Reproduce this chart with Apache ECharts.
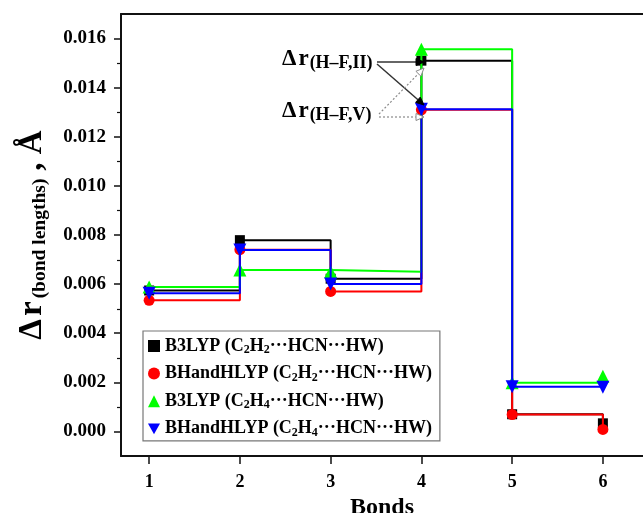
<!DOCTYPE html>
<html><head><meta charset="utf-8">
<script src="https://cdn.jsdelivr.net/npm/echarts@6/dist/echarts.min.js"></script>
<style>html,body{margin:0;padding:0;background:#fff}#c{width:643px;height:513px}</style>
</head><body><div id="c"></div>
<script>
// ---- data ----
const bonds = [1, 2, 3, 4, 5, 6];
const b3lypC2H2 = [0.00574, 0.00779, 0.00622, 0.0151, 0.0007, 0.00033];
const bhandhC2H2 = [0.00534, 0.0074, 0.0057, 0.0131, 0.00069, 0.00008];
const b3lypC2H4 = [0.00588, 0.00657, 0.0065, 0.01556, 0.00198, 0.00225];
const bhandhC2H4 = [0.00563, 0.00739, 0.006, 0.01312, 0.00182, 0.0018];
const seriesNames = [
  'B3LYP (C2H2···HCN···HW)',
  'BHandHLYP (C2H2···HCN···HW)',
  'B3LYP (C2H4···HCN···HW)',
  'BHandHLYP (C2H4···HCN···HW)'
];
const xTickValues = [1, 2, 3, 4, 5, 6];
const yTickValues = [0, 0.002, 0.004, 0.006, 0.008, 0.010, 0.012, 0.014, 0.016];
const yMinorValues = [0.001, 0.003, 0.005, 0.007, 0.009, 0.011, 0.013, 0.015];
const annotationLabels = ['H–F,II', 'H–F,V'];

// ---- chart ----
const FONT = '"Liberation Serif","Times New Roman",serif';
const chart = echarts.init(document.getElementById('c'));
const zip = arr => bonds.map((b, i) => [b, arr[i]]);

const colors = ['#000000', '#ff0000', '#00ff00', '#0000ff'];
const symbols = ['rect', 'circle', 'triangle', 'triangle'];
const sizes = [10, 11, 13, 13];
const rotates = [0, 0, 0, 180];
const datasets = [b3lypC2H2, bhandhC2H2, b3lypC2H4, bhandhC2H4];

const series = datasets.map((d, i) => ({
  type: 'line',
  name: seriesNames[i],
  data: zip(d),
  step: 'end',
  symbol: symbols[i],
  symbolSize: sizes[i],
  symbolRotate: rotates[i],
  showAllSymbol: true,
  lineStyle: { color: colors[i], width: 2 },
  itemStyle: { color: colors[i] },
  z: 2 + i,
  animation: false
}));

function arrow(x1, y1, x2, y2, dashed) {
  const dx = x2 - x1, dy = y2 - y1, L = Math.hypot(dx, dy);
  const ux = dx / L, uy = dy / L, hl = 8, hw = 3.5;
  const bx = x2 - ux * hl, by = y2 - uy * hl;
  const col = dashed ? '#8a8a8a' : '#333';
  return [
    { type: 'line', z: 100, shape: { x1, y1, x2: bx, y2: by },
      style: { stroke: col, lineWidth: dashed ? 1.2 : 1.5, lineDash: dashed ? [2, 2] : null } },
    { type: 'polygon', z: 100, shape: { points: [[x2, y2], [bx - uy * hw, by + ux * hw], [bx + uy * hw, by - ux * hw]] },
      style: { fill: dashed ? '#fff' : '#000', stroke: dashed ? col : '#000', lineWidth: 1 } }
  ];
}

const annRich = {
  d: { fontSize: 23, fontWeight: 'bold', fontFamily: FONT, lineHeight: 26, fill: '#000' },
  r: { fontSize: 23, fontWeight: 'bold', fontFamily: FONT, lineHeight: 26, fill: '#000', padding: [0, 1, 0, 2] },
  s: { fontSize: 18, fontWeight: 'bold', fontFamily: FONT, lineHeight: 13, verticalAlign: 'bottom', fill: '#000' }
};

const graphic = [
  { type: 'text', x: 282, y: 59, z: 100, style: { text: '{d|Δ}{r|r}{s|(' + annotationLabels[0] + ')}', rich: annRich, textVerticalAlign: 'middle' } },
  { type: 'text', x: 282, y: 111, z: 100, style: { text: '{d|Δ}{r|r}{s|(' + annotationLabels[1] + ')}', rich: annRich, textVerticalAlign: 'middle' } },
  ...arrow(377, 62, 424, 62, false),
  ...arrow(377, 64, 424, 105, false),
  ...arrow(379, 114, 424, 68, true),
  ...arrow(379, 117, 424, 117, true)
];

const X_MIN = 0.69, X_MAX = 6.475;
const option = {
  animation: false,
  backgroundColor: '#fff',
  grid: { left: 121, top: 14, right: -3, bottom: 57, containLabel: false, outerBoundsMode: 'none' },
  legend: {
    orient: 'vertical',
    left: 143, top: 331,
    padding: [5, 8, 2, 5],
    itemGap: 7.6,
    itemWidth: 12, itemHeight: 12,
    borderColor: '#777', borderWidth: 1.2, backgroundColor: '#fff',
    data: [
      { name: seriesNames[0], icon: 'rect' },
      { name: seriesNames[1], icon: 'circle' },
      { name: seriesNames[2], icon: 'triangle' },
      { name: seriesNames[3], icon: 'path://M0,0L10,0L5,9Z' }
    ],
    formatter: n => n.replace(/([CH])(\d)/g, '$1{s|$2}'),
    textStyle: {
      fontFamily: FONT, fontWeight: 'bold', fontSize: 18, color: '#000', lineHeight: 20,
      rich: { s: { fontFamily: FONT, fontWeight: 'bold', fontSize: 12, lineHeight: 13, verticalAlign: 'bottom', color: '#000' } }
    },
    itemTextGap: 2,
    selectedMode: false
  },
  xAxis: [{
    type: 'value', min: X_MIN, max: X_MAX,
    axisLine: { onZero: false, lineStyle: { color: '#111', width: 2 } },
    axisTick: { customValues: xTickValues, length: 8, lineStyle: { color: '#111', width: 1.5 } },
    axisLabel: { customValues: xTickValues, margin: 17, fontFamily: FONT, fontWeight: 'bold', fontSize: 18, color: '#000' },
    splitLine: { show: false },
    name: 'Bonds', nameLocation: 'middle', nameGap: 33,
    nameTextStyle: { fontFamily: FONT, fontWeight: 'bold', fontSize: 24, color: '#000', padding: [0, 0, 0, -3] }
  }, {
    type: 'value', min: X_MIN, max: X_MAX, position: 'top',
    axisLine: { show: true, onZero: false, lineStyle: { color: '#111', width: 2 } },
    axisTick: { show: false }, axisLabel: { show: false }, splitLine: { show: false }
  }],
  yAxis: [{
    type: 'value', min: -0.001, max: 0.017, position: 'left',
    axisLine: { show: true, onZero: false, lineStyle: { color: '#111', width: 2 } },
    axisTick: { show: true, customValues: yTickValues, length: 7, lineStyle: { color: '#111', width: 1.5 } },
    axisLabel: { customValues: yTickValues, formatter: v => v.toFixed(3), margin: 15,
      fontFamily: FONT, fontWeight: 'bold', fontSize: 19, color: '#000' },
    splitLine: { show: false },
    name: '{d|Δ}{r|r}{s|(bond lengths)}{c|, Å}',
    nameLocation: 'middle', nameRotate: 90, nameGap: 71,
    nameTextStyle: {
      rich: {
        d: { fontFamily: FONT, fontWeight: 'bold', fontSize: 33, lineHeight: 36, color: '#000', padding: [0, 3, 0, 0] },
        r: { fontFamily: FONT, fontWeight: 'bold', fontSize: 33, lineHeight: 36, color: '#000', padding: [0, 3, 0, 0] },
        c: { fontFamily: FONT, fontWeight: 'bold', fontSize: 33, lineHeight: 36, color: '#000', padding: [0, 0, 0, 8] },
        s: { fontFamily: FONT, fontWeight: 'bold', fontSize: 19.5, lineHeight: 20, verticalAlign: 'bottom', color: '#000' }
      }
    }
  }],
  series,
  graphic
};
chart.setOption(option);

// minor y ticks placed through the axis scale
const x0 = chart.convertToPixel({ xAxisIndex: 0 }, X_MIN);
const minorTicks = yMinorValues.map(v => {
  const y = Math.round(chart.convertToPixel({ yAxisIndex: 0 }, v)) + 0.5;
  return { type: 'line', z: 50, shape: { x1: x0 - 4, y1: y, x2: x0, y2: y }, style: { stroke: '#111', lineWidth: 1.2 } };
});
chart.setOption({ graphic: graphic.concat(minorTicks) });
</script></body></html>
